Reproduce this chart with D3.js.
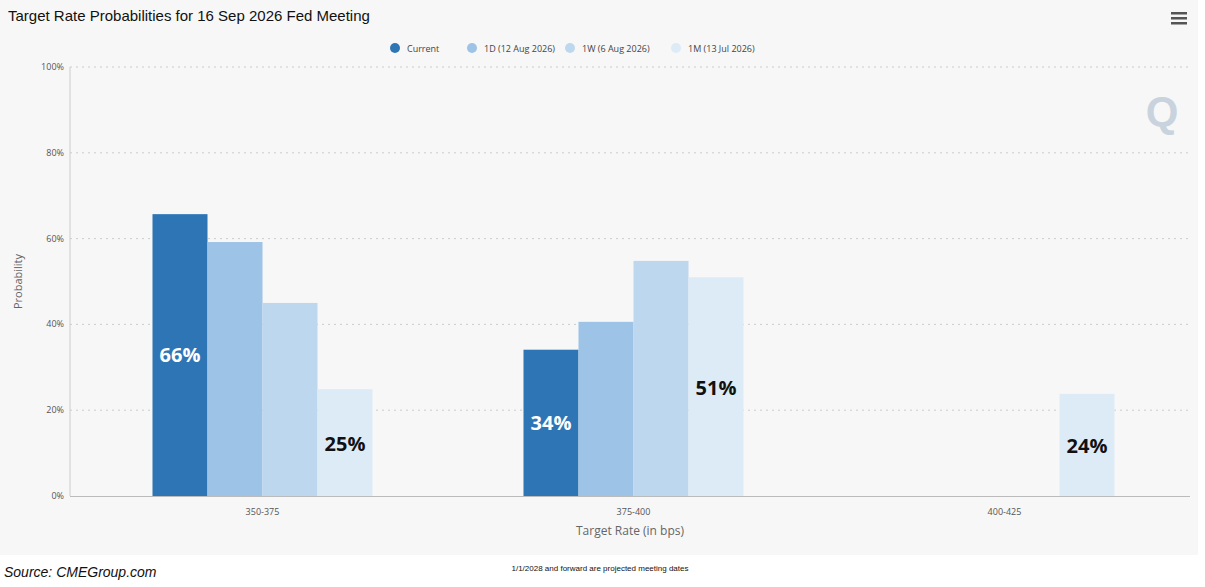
<!DOCTYPE html>
<html><head><meta charset="utf-8">
<script src="https://cdn.jsdelivr.net/npm/d3@7"></script>
<style>body{margin:0;background:#fff}svg{display:block}</style>
</head><body><svg id="c" width="1205" height="587"></svg>
<script>
const categories = ["350-375","375-400","400-425"];
const seriesNames = ["Current","1D (12 Aug 2026)","1W (6 Aug 2026)","1M (13 Jul 2026)"];
const current = [65.7, 34.1, 0];
const d1 = [59.2, 40.6, 0];
const w1 = [45.0, 54.8, 0];
const m1 = [24.9, 51.0, 23.8];
const yTicks = [0,20,40,60,80,100];
const labels = [{s:0,c:0,t:"66%",w:true},{s:3,c:0,t:"25%"},{s:0,c:1,t:"34%",w:true},{s:3,c:1,t:"51%"},{s:3,c:2,t:"24%"}];
const colors = ["#2e75b6","#9dc3e6","#bdd7ee","#ddebf7"];
const series = [current,d1,w1,m1];

const svg = d3.select("#c");
svg.append("rect").attr("width",1198).attr("height",555).attr("fill","#f7f7f7");
const L=70,R=1190,T=67,B=496;
const x = d3.scaleBand().domain(categories).range([L+7,R+0]).padding(0);
const inner = d3.scaleBand().domain(d3.range(4)).range([0,x.bandwidth()]).paddingInner(0).paddingOuter(0.5);
// set group to 220px width in 369 band
const bw = x.bandwidth();
inner.range([(bw-220)/2,(bw+220)/2]).paddingOuter(0);
const y = d3.scaleLinear().domain([0,100]).range([B,T]);

svg.append("text").attr("x",8).attr("y",21).attr("font-family","Liberation Sans, Arial").attr("font-size",15).attr("fill","#111").text("Target Rate Probabilities for 16 Sep 2026 Fed Meeting");
// menu icon
[0,5,10].forEach(d=>svg.append("rect").attr("x",1171).attr("y",12+d).attr("width",16).attr("height",2.5).attr("fill","#555"));

// grid
const g = svg.append("g");
yTicks.forEach(t=>{
  if(t>0) g.append("line").attr("x1",L).attr("x2",R).attr("y1",y(t)).attr("y2",y(t)).attr("stroke","#ccc").attr("stroke-dasharray","2,4");
  g.append("text").attr("x",L-6).attr("y",y(t)+3).attr("text-anchor","end").attr("font-family","Open Sans, sans-serif").attr("font-size",9).attr("fill","#555").text(t+"%");
});
g.append("line").attr("x1",L).attr("x2",L).attr("y1",T).attr("y2",B).attr("stroke","#ccc");
g.append("line").attr("x1",L).attr("x2",R).attr("y1",B+0.5).attr("y2",B+0.5).attr("stroke","#bbb");
svg.append("text").attr("transform",`translate(22,${(T+B)/2}) rotate(-90)`).attr("text-anchor","middle").attr("font-family","Open Sans, sans-serif").attr("font-size",11).attr("fill","#666").text("Probability");

// Q watermark
svg.append("text").attr("x",1162).attr("y",126).attr("text-anchor","middle").attr("font-family","Liberation Sans, Arial").attr("font-weight","bold").attr("font-size",42).attr("fill","#c9d3dd").text("Q");

series.forEach((vals,si)=>{
  svg.append("g").selectAll("rect").data(vals).join("rect")
   .attr("x",(d,i)=>x(categories[i])+inner(si)).attr("width",inner.bandwidth())
   .attr("y",d=>y(d)).attr("height",d=>B-y(d)).attr("fill",colors[si]);
});
labels.forEach(l=>{
  const v=series[l.s][l.c];
  svg.append("text").attr("x",x(categories[l.c])+inner(l.s)+inner.bandwidth()/2)
   .attr("y",l.s===0?y(v/2)+7:y(v/2)+8).attr("text-anchor","middle")
   .attr("font-family","Open Sans, sans-serif").attr("font-weight","bold").attr("font-size",20)
   .attr("fill",l.w?"#fff":"#111").text(l.t);
});
categories.forEach(c=>svg.append("text").attr("x",x(c)+bw/2).attr("y",515).attr("text-anchor","middle").attr("font-family","Open Sans, sans-serif").attr("font-size",9).attr("fill","#555").text(c));
svg.append("text").attr("x",630).attr("y",535).attr("text-anchor","middle").attr("font-family","Open Sans, sans-serif").attr("font-size",12).attr("fill","#666").text("Target Rate (in bps)");

// legend
const lx=[395,472,570,676];
seriesNames.forEach((n,i)=>{
  svg.append("circle").attr("cx",lx[i]).attr("cy",48).attr("r",5).attr("fill",colors[i]);
  svg.append("text").attr("x",lx[i]+12).attr("y",51.5).attr("font-family","Open Sans, sans-serif").attr("font-size",9).attr("fill","#444").text(n);
});
svg.append("text").attr("x",4).attr("y",577).attr("font-family","Liberation Sans, Arial").attr("font-style","italic").attr("font-size",14).attr("fill","#111").text("Source:  CMEGroup.com");
svg.append("text").attr("x",600).attr("y",571).attr("text-anchor","middle").attr("font-family","Liberation Sans, Arial").attr("font-size",8).attr("fill","#111").text("1/1/2028 and forward are projected meeting dates");
</script></body></html>
